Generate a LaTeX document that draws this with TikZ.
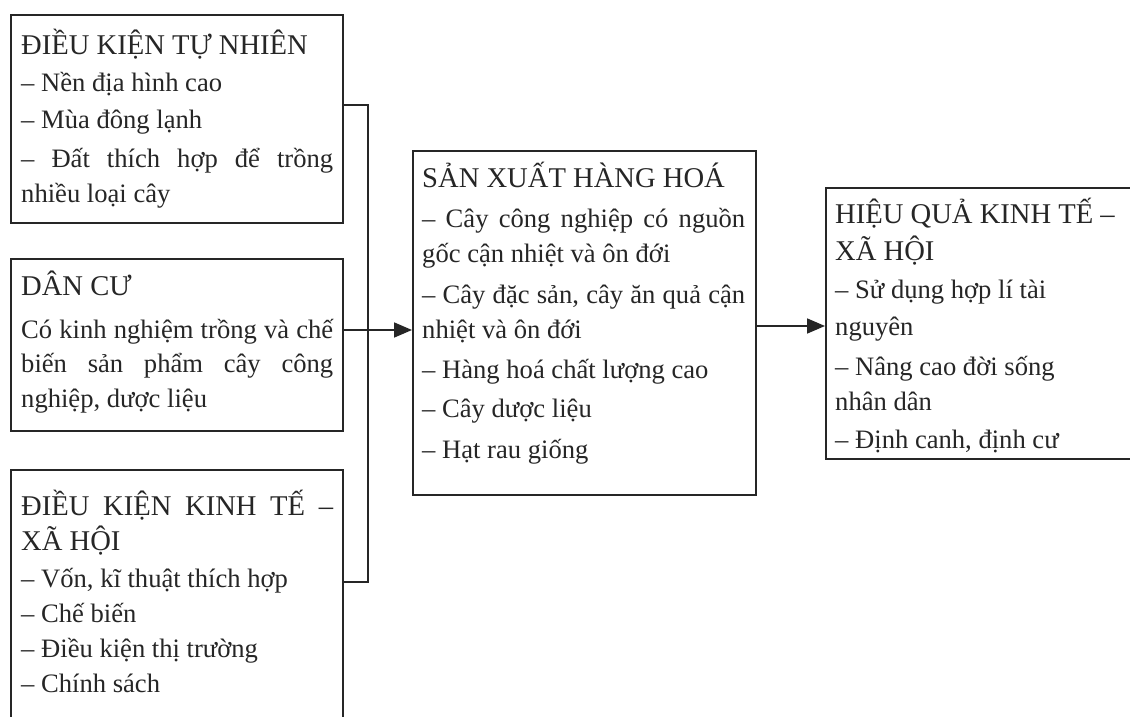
\documentclass[tikz,border=0pt]{standalone}
\usepackage{fontspec}
\setmainfont{Liberation Serif}
\usetikzlibrary{arrows.meta}
\definecolor{ink}{HTML}{262626}
\begin{document}
\begin{tikzpicture}[x=1pt,y=-1pt,
  frame/.style={draw=ink, line width=1.8pt, anchor=north west, inner sep=0pt, minimum width=#1},
  ttl/.style={anchor=base west, inner sep=0pt, text=ink, font=\fontsize{28.6}{33}\selectfont},
  txt/.style={anchor=base west, inner sep=0pt, text=ink, font=\fontsize{26.6}{30}\selectfont},
  link/.style={draw=ink, line width=1.8pt},
  arr/.style={link, -{Triangle[length=18pt,width=15pt]}}]
\useasboundingbox (0,0) rectangle (1130,717);
\fill[white] (0,0) rectangle (1130,717);
\clip (0,0) rectangle (1130,717);

% frames
\node[frame=332pt, minimum height=208pt] (n1) at (10,14) {};
\node[frame=332pt, minimum height=172pt] (n2) at (10,258) {};
\node[frame=332pt, minimum height=280pt] (n3) at (10,469) {};
\node[frame=343pt, minimum height=344pt] (n4) at (412,150) {};
\node[frame=330pt, minimum height=271pt] (n5) at (825,187) {};

% box 1
\node[ttl] (t1a) at (21,55) {ĐIỀU KIỆN TỰ NHIÊN};
\node[txt] (t1b) at (21,92) {– Nền địa hình cao};
\node[txt] (t1c) at (21,128) {– Mùa đông lạnh};
\node[txt] (t1d) at (21,167) {\makebox[312pt][s]{– Đất thích hợp để trồng}};
\node[txt] (t1e) at (21,202) {nhiều loại cây};

% box 2
\node[ttl] (t2a) at (21,295) {DÂN CƯ};
\node[txt] (t2b) at (21,338) {\makebox[312pt][s]{Có kinh nghiệm trồng và chế}};
\node[txt] (t2c) at (21,372) {\makebox[312pt][s]{biến sản phẩm cây công}};
\node[txt] (t2d) at (21,407) {nghiệp, dược liệu};

% box 3
\node[ttl] (t3a) at (21,515) {\makebox[312pt][s]{ĐIỀU KIỆN KINH TẾ –}};
\node[ttl] (t3b) at (21,550) {XÃ HỘI};
\node[txt] (t3c) at (21,587) {– Vốn, kĩ thuật thích hợp};
\node[txt] (t3d) at (21,622) {– Chế biến};
\node[txt] (t3e) at (21,657) {– Điều kiện thị trường};
\node[txt] (t3f) at (21,692) {– Chính sách};

% central box
\node[ttl] (t4a) at (422,187) {SẢN XUẤT HÀNG HOÁ};
\node[txt] (t4b) at (422,227) {\makebox[323pt][s]{– Cây công nghiệp có nguồn}};
\node[txt] (t4c) at (422,262) {gốc cận nhiệt và ôn đới};
\node[txt] (t4d) at (422,303) {\makebox[323pt][s]{– Cây đặc sản, cây ăn quả cận}};
\node[txt] (t4e) at (422,338) {nhiệt và ôn đới};
\node[txt] (t4f) at (422,378) {– Hàng hoá chất lượng cao};
\node[txt] (t4g) at (422,417) {– Cây dược liệu};
\node[txt] (t4h) at (422,458) {– Hạt rau giống};

% right box
\node[ttl] (t5a) at (835,223) {HIỆU QUẢ KINH TẾ –};
\node[ttl] (t5b) at (835,260) {XÃ HỘI};
\node[txt] (t5c) at (835,298) {– Sử dụng hợp lí tài};
\node[txt] (t5d) at (835,335) {nguyên};
\node[txt] (t5e) at (835,375) {– Nâng cao đời sống};
\node[txt] (t5f) at (835,410) {nhân dân};
\node[txt] (t5g) at (835,448) {– Định canh, định cư};

% connectors
\coordinate (j1) at (368,105);
\coordinate (j3) at (368,582);
\coordinate (a1) at (368,330);
\coordinate (a2) at (790,326);
\draw[link] (n1.east |- j1) -- (j1) -- (j3) -- (n3.east |- j3);
\draw[arr] (n2.east |- a1) -- (n4.west |- a1);
\draw[arr] (n4.east |- a2) -- (n5.west |- a2);
\end{tikzpicture}
\end{document}
